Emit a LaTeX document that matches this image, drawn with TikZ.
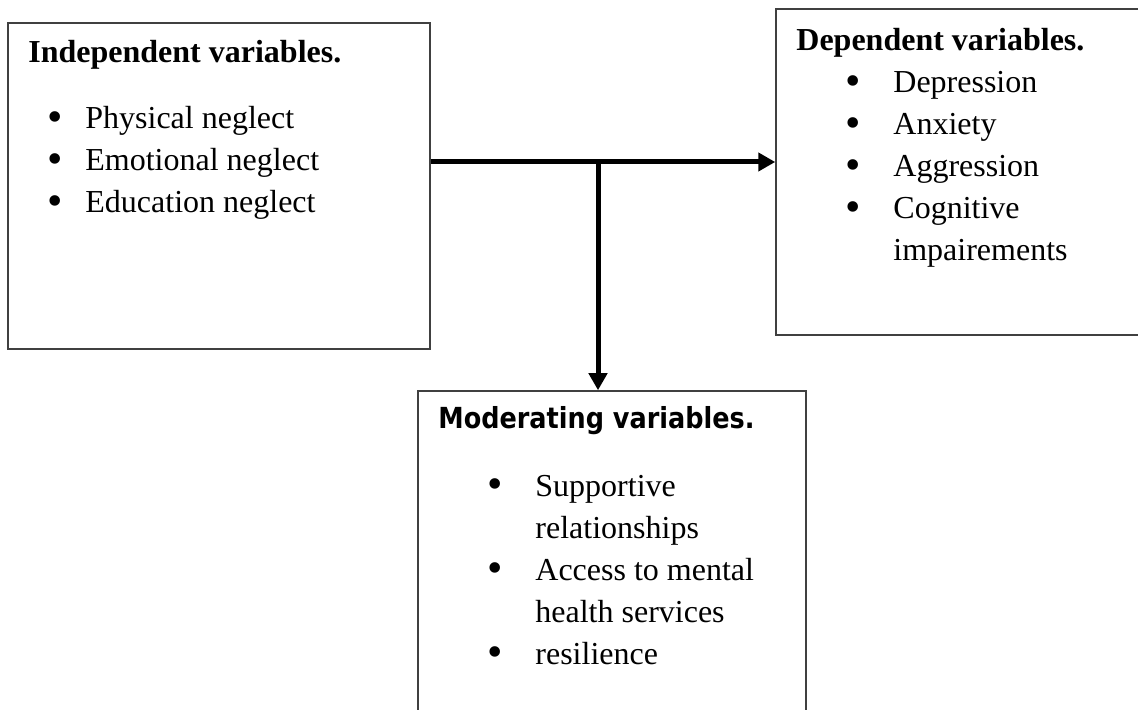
\documentclass[tikz,border=0pt]{standalone}
\usepackage{fontspec}
\setmainfont{Liberation Serif}
\newfontfamily\modfont[FakeStretch=0.88]{DejaVu Sans}
\usetikzlibrary{arrows.meta}

\newcommand\bul{\raisebox{-1.3pt}{\fontsize{22}{21}\selectfont\textbullet}}

\tikzset{
  varbox/.style={draw=black!75, line width=0.75pt, inner sep=0pt, rectangle},
  varlist/.style={inner sep=0pt, anchor=base west, align=left,
    font=\fontsize{16}{21}\selectfont},
  vartitle/.style={inner sep=0pt, anchor=base west,
    font=\fontsize{16}{21}\selectfont\bfseries},
  flow/.style={line width=2.5pt, -{Triangle[length=8.5pt,width=9pt]}}
}

\begin{document}
\begin{tikzpicture}[x=0.5pt,y=-0.5pt]
    \clip (0,0) rectangle (1138,710);
    \fill[white] (0,0) rectangle (1138,710);
    % boxes
    \node[varbox, minimum width=211pt, minimum height=163pt] (indep) at (219,186) {};
    \node[varbox, minimum width=192pt, minimum height=163pt] (dep) at (968,172) {};
    \node[varbox, minimum width=194pt, minimum height=184.5pt] (mod) at (612,575.5) {};
    % texts
    \node[vartitle] (indeptitle) at (28,63) {Independent variables.};
    \node[varlist] (indeplist) at (47,129) {\begin{tabular}[t]{@{}p{19pt}@{}l@{}}
        \bul & Physical neglect\\
        \bul & Emotional neglect\\
        \bul & Education neglect
      \end{tabular}};
    \node[vartitle] (deptitle) at (796,51) {Dependent variables.};
    \node[varlist] (deplist) at (845,93) {\begin{tabular}[t]{@{}p{24pt}@{}l@{}}
        \bul & Depression\\
        \bul & Anxiety\\
        \bul & Aggression\\
        \bul & Cognitive\\
             & impairements
      \end{tabular}};
    \node[vartitle, font=\fontsize{14.5}{21}\selectfont\modfont\bfseries] (modtitle) at (438,428) {Moderating variables.};
    \node[varlist] (modlist) at (487,496) {\begin{tabular}[t]{@{}p{24pt}@{}l@{}}
        \bul & Supportive\\
             & relationships\\
        \bul & Access to mental\\
             & health services\\
        \bul & resilience
      \end{tabular}};
    % arrows
    \coordinate (j) at (598,162);
    \draw[flow] (indep.east |- j) -- (dep.west |- j);
    \draw[flow] (j) -- (mod.north -| j);
\end{tikzpicture}
\end{document}
